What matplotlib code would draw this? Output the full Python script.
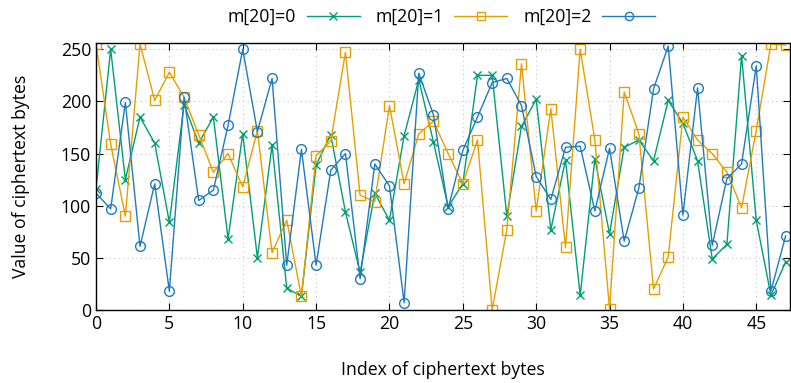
import numpy as np
import matplotlib
matplotlib.use('Agg')
import matplotlib.pyplot as plt

plt.rcParams['font.family'] = ['Open Sans', 'DejaVu Sans']

index = np.arange(48)

m0 = [116, 250, 125, 185, 160, 84, 197, 160, 185, 68, 169, 50,
      158, 21, 13, 139, 168, 94, 36, 112, 86, 167, 221, 161,
      99, 121, 225, 225, 90, 176, 202, 77, 144, 14, 145, 73,
      156, 163, 143, 201, 179, 143, 49, 63, 244, 86, 14, 46]

m1 = [255, 159, 90, 255, 201, 228, 204, 168, 132, 150, 118, 172,
      55, 86, 13, 148, 162, 247, 110, 104, 196, 121, 169, 181,
      150, 121, 163, 0, 77, 236, 95, 193, 60, 250, 163, 1,
      209, 169, 20, 51, 185, 163, 150, 132, 98, 172, 255, 254]

m2 = [112, 97, 199, 61, 121, 18, 204, 105, 115, 177, 250, 171,
      222, 43, 154, 43, 134, 150, 30, 140, 119, 7, 227, 187,
      97, 153, 185, 218, 222, 196, 128, 106, 156, 157, 95, 155,
      66, 117, 212, 253, 91, 213, 62, 126, 140, 234, 18, 71]

fs = 12.7

fig = plt.figure(figsize=(7.91, 3.83), dpi=100)
ax = fig.add_axes([96 / 791, 1 - 310 / 383, (790 - 96) / 791, (310 - 43) / 383])

ax.plot(index, m0, color='#009e73', marker='x', markersize=6, lw=1.0,
        label='m[20]=0')
ax.plot(index, m1, color='#e69f00', marker='s', markersize=7, lw=1.0,
        markerfacecolor='none', label='m[20]=1')
ax.plot(index, m2, color='#1f7bbf', marker='o', markersize=7, lw=1.0,
        markerfacecolor='none', label='m[20]=2')

ax.set_xlim(0, 47.3)
ax.set_ylim(0, 256)
ax.set_xticks(range(0, 50, 5))
ax.set_yticks(range(0, 260, 50))
ax.grid(True, color='#c8c8c8', linestyle=(0, (1, 3)), lw=0.8)
ax.tick_params(direction='in', top=True, right=True, labelsize=fs, length=5)
for s in ax.spines.values():
    s.set_linewidth(1.0)

ax.set_xlabel('Index of ciphertext bytes', fontsize=fs, labelpad=20)
ax.set_ylabel('Value of ciphertext bytes', fontsize=fs, labelpad=22)

fig.legend(loc='center', bbox_to_anchor=(0.558, 1 - 17 / 383), ncol=3,
           frameon=False, markerfirst=False, fontsize=fs, handlelength=3.0,
           columnspacing=0.9, handletextpad=0.6, markerscale=0.85)

fig.savefig('out.png', dpi=100)
